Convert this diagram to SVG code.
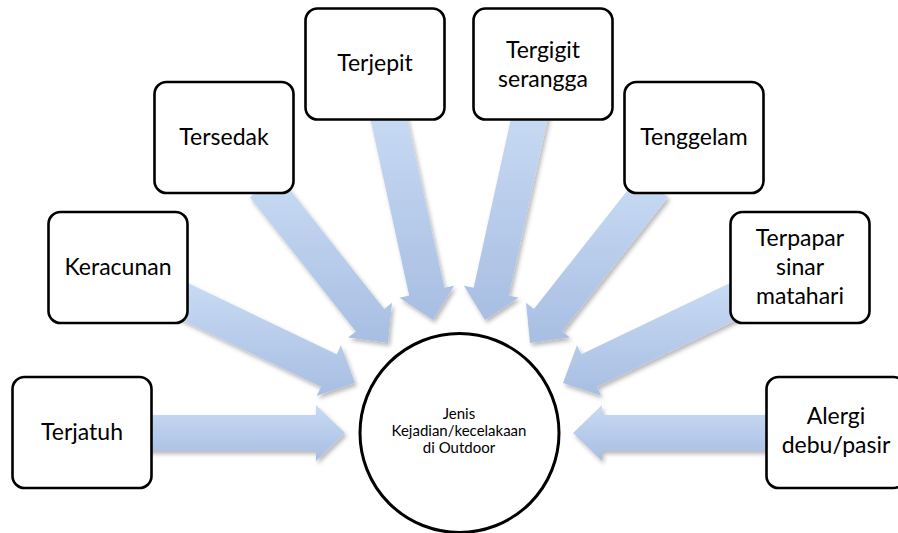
<svg xmlns="http://www.w3.org/2000/svg" width="898" height="533" viewBox="0 0 898 533">
  <defs>
    <linearGradient id="arrowFill" x1="0" y1="0" x2="0" y2="1">
      <stop offset="0" stop-color="#c8dbf4"/>
      <stop offset="1" stop-color="#a8bee2"/>
    </linearGradient>
    <filter id="softShadow" x="-20%" y="-20%" width="140%" height="140%">
      <feDropShadow dx="2" dy="3" stdDeviation="2.2" flood-color="#000" flood-opacity="0.28"/>
    </filter>
  </defs>
  <style>
    .arrow { fill: url(#arrowFill); filter: url(#softShadow); }
    .box { fill: #ffffff; stroke: #000000; stroke-width: 2.6; }
    .hub { fill: #ffffff; stroke: #000000; stroke-width: 3; }
    .label { font-family: Lato, "Open Sans", "Liberation Sans", sans-serif; font-size: 23px; fill: #000000; text-anchor: middle; }
    .hubLabel { font-family: Lato, "Open Sans", "Liberation Sans", sans-serif; font-size: 15px; fill: #000000; text-anchor: middle; }
  </style>

  <rect width="898" height="533" fill="#ffffff"/>

  <!-- block arrows pointing at the hub -->
  <g id="connectors">
    <polygon class="arrow" points="140,415 316,415 316,405 345,433 316,461 316,451 140,451"/>
    <polygon class="arrow" points="186.88,282.56 336.62,354.23 340.94,345.21 355,383 316.74,395.73 321.06,386.71 171.32,315.04"/>
    <polygon class="arrow" points="278.13,174.84 384.15,309.07 392,302.87 388,343 348.04,337.59 355.89,331.39 249.87,197.16"/>
    <polygon class="arrow" points="404.38,106.13 444.34,287.81 454.1,285.66 433,320 399.42,297.7 409.18,295.55 369.22,113.87"/>
    <polygon class="arrow" points="513.62,106.13 473.66,287.81 463.9,285.66 485,320 518.58,297.7 508.82,295.55 548.78,113.87"/>
    <polygon class="arrow" points="639.87,174.84 533.85,309.07 526,302.87 530,343 569.96,337.59 562.11,331.39 668.13,197.16"/>
    <polygon class="arrow" points="731.12,282.56 581.38,354.23 577.06,345.21 563,383 601.26,395.73 596.94,386.71 746.68,315.04"/>
    <polygon class="arrow" points="778,415 602,415 602,405 573,433 602,461 602,451 778,451"/>
  </g>

  <g id="hub">
    <circle class="hub" cx="459.5" cy="433" r="99.5"/>
    <text class="hubLabel" x="459" y="419">Jenis</text>
    <text class="hubLabel" x="459" y="436">Kejadian/kecelakaan</text>
    <text class="hubLabel" x="459" y="453">di Outdoor</text>
  </g>

  <g id="terjatuh">
    <rect class="box" x="12.5" y="377" width="139" height="111" rx="12"/>
    <text class="label" x="82" y="440">Terjatuh</text>
  </g>

  <g id="keracunan">
    <rect class="box" x="48.5" y="212" width="139" height="111" rx="12"/>
    <text class="label" x="118" y="275">Keracunan</text>
  </g>

  <g id="tersedak">
    <rect class="box" x="154.5" y="82" width="139" height="111" rx="12"/>
    <text class="label" x="224" y="145">Tersedak</text>
  </g>

  <g id="terjepit">
    <rect class="box" x="305.5" y="8.5" width="139" height="111" rx="12"/>
    <text class="label" x="375" y="71">Terjepit</text>
  </g>

  <g id="tergigit-serangga">
    <rect class="box" x="473.5" y="8.5" width="139" height="111" rx="12"/>
    <text class="label" x="543" y="58">Tergigit</text>
    <text class="label" x="543" y="87">serangga</text>
  </g>

  <g id="tenggelam">
    <rect class="box" x="624.5" y="82" width="139" height="111" rx="12"/>
    <text class="label" x="694" y="145">Tenggelam</text>
  </g>

  <g id="terpapar-sinar-matahari">
    <rect class="box" x="730.5" y="212" width="139" height="111" rx="12"/>
    <text class="label" x="800" y="246">Terpapar</text>
    <text class="label" x="800" y="275">sinar</text>
    <text class="label" x="800" y="304">matahari</text>
  </g>

  <g id="alergi-debu-pasir">
    <rect class="box" x="766.5" y="377" width="139" height="111" rx="12"/>
    <text class="label" x="836" y="424">Alergi</text>
    <text class="label" x="836" y="453">debu/pasir</text>
  </g>
</svg>
